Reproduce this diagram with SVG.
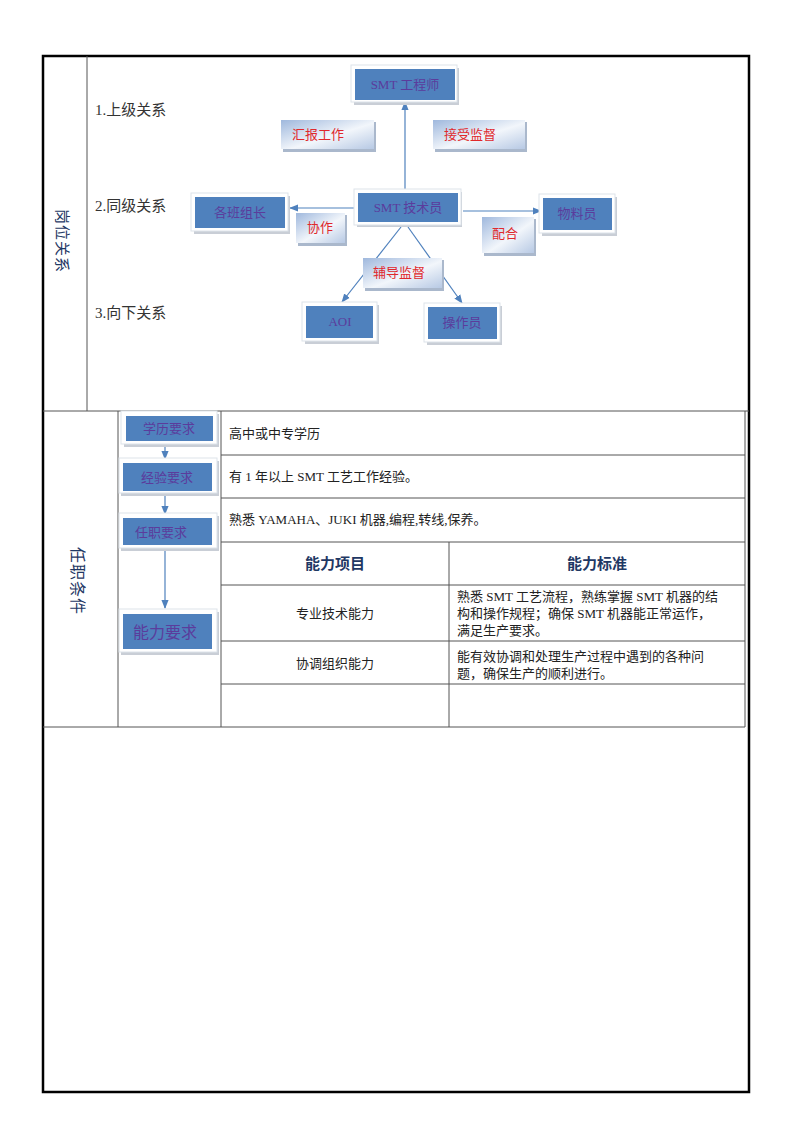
<svg xmlns="http://www.w3.org/2000/svg" width="800" height="1132" viewBox="0 0 800 1132">
<defs>
<linearGradient id="lab" x1="0" y1="0" x2="1" y2="1">
<stop offset="0" stop-color="#9fb8dd"/>
<stop offset="0.55" stop-color="#f2f6fb"/>
<stop offset="1" stop-color="#b7c9e4"/>
</linearGradient>
<marker id="ah" viewBox="0 0 10 10" refX="9" refY="5" markerWidth="9" markerHeight="9" markerUnits="userSpaceOnUse" orient="auto">
<path d="M0,1 L10,5 L0,9 z" fill="#4f81bd"/>
</marker>
<style>
.frame{fill:none;stroke:#000;stroke-width:2.5}
.ln{stroke:#555;stroke-width:1;fill:none}
.shadow{fill:#c9ced6}
.outer{fill:#fff;stroke:#dde3ea;stroke-width:1}
.blue{fill:#4f81bd}
.bt{font-family:"Liberation Serif","Noto Sans CJK SC",serif;font-size:13px;fill:#5b3c9c;text-anchor:middle}
.lb{fill:url(#lab)}
.lbs{fill:#aab8cc}
.lt{font-family:"Liberation Serif","Noto Sans CJK SC",serif;font-size:13px;fill:#e0282c}
.rel{font-family:"Liberation Serif","Noto Sans CJK SC",serif;font-size:15px;fill:#333}
.tt{font-family:"Liberation Serif","Noto Sans CJK SC",serif;font-size:13px;fill:#222}
.hd{font-family:"Noto Sans CJK SC",sans-serif;font-size:15px;font-weight:bold;fill:#1f3864;text-anchor:middle}
.vt{font-family:"Noto Sans CJK SC",sans-serif;font-size:15px;fill:#1f3864}
.con{stroke:#4f81bd;stroke-width:1.2;fill:none}
</style>
</defs>
<rect width="800" height="1132" fill="#fff"/>

<g id="table">
<rect class="frame" x="43" y="56" width="706" height="1036"/>
<line class="ln" x1="87" y1="56" x2="87" y2="411"/>
<line class="ln" x1="43" y1="411" x2="749" y2="411"/>
<line class="ln" x1="118" y1="411" x2="118" y2="727"/>
<line class="ln" x1="221" y1="411" x2="221" y2="727"/>
<line class="ln" x1="745" y1="411" x2="745" y2="727"/>
<line class="ln" x1="221" y1="455" x2="745" y2="455"/>
<line class="ln" x1="221" y1="498" x2="745" y2="498"/>
<line class="ln" x1="221" y1="542" x2="745" y2="542"/>
<line class="ln" x1="221" y1="585" x2="745" y2="585"/>
<line class="ln" x1="221" y1="641" x2="745" y2="641"/>
<line class="ln" x1="221" y1="684" x2="745" y2="684"/>
<line class="ln" x1="43" y1="727" x2="745" y2="727"/>
<line class="ln" x1="449" y1="542" x2="449" y2="727"/>
<text class="vt" transform="translate(57,209) rotate(90)" letter-spacing="1">岗位关系</text>
<text class="vt" transform="translate(72,547) rotate(90)" style="font-size:16px" letter-spacing="1">任职条件</text>
<text class="rel" x="95" y="115">1.上级关系</text>
<text class="rel" x="95" y="211">2.同级关系</text>
<text class="rel" x="95" y="318">3.向下关系</text>
<text class="tt" x="229" y="438">高中或中专学历</text>
<text class="tt" x="229" y="481">有 1 年以上 SMT 工艺工作经验。</text>
<text class="tt" x="229" y="524">熟悉 YAMAHA、JUKI 机器,编程,转线,保养。</text>
<text class="hd" x="335" y="569">能力项目</text>
<text class="hd" x="597" y="569">能力标准</text>
<text class="tt" x="335" y="618" text-anchor="middle">专业技术能力</text>
<text class="tt" x="335" y="668" text-anchor="middle">协调组织能力</text>
<text class="tt" x="457" y="601">熟悉 SMT 工艺流程，熟练掌握 SMT 机器的结</text>
<text class="tt" x="457" y="618">构和操作规程；确保 SMT 机器能正常运作，</text>
<text class="tt" x="457" y="635">满足生产要求。</text>
<text class="tt" x="457" y="661">能有效协调和处理生产过程中遇到的各种问</text>
<text class="tt" x="457" y="678">题，确保生产的顺利进行。</text>
</g>

<g id="connectors">
<line class="con" x1="405" y1="193" x2="405" y2="102" marker-end="url(#ah)"/>
<line class="con" x1="358" y1="208" x2="290" y2="208" marker-end="url(#ah)"/>
<line class="con" x1="463" y1="211" x2="541" y2="211" marker-end="url(#ah)"/>
<line class="con" x1="401" y1="227" x2="342" y2="302" marker-end="url(#ah)"/>
<line class="con" x1="408" y1="227" x2="462" y2="303" marker-end="url(#ah)"/>
<line class="con" x1="165" y1="443" x2="165" y2="459" marker-end="url(#ah)"/>
<line class="con" x1="165" y1="494" x2="165" y2="514" marker-end="url(#ah)"/>
<line class="con" x1="165" y1="549" x2="165" y2="608" marker-end="url(#ah)"/>
</g>

<g id="n-engineer">
<rect class="shadow" x="354" y="68" width="105" height="37"/>
<rect class="outer" x="351" y="65" width="106" height="37"/>
<rect class="blue" x="355" y="69" width="100" height="31"/>
<text class="bt" x="405" y="89">SMT 工程师</text>
</g>
<g id="n-report">
<rect class="lbs" x="283" y="122" width="93" height="30"/>
<rect class="lb" x="281" y="120" width="93" height="29"/>
<text class="lt" x="292" y="139">汇报工作</text>
</g>
<g id="n-supervise">
<rect class="lbs" x="435" y="122" width="92" height="30"/>
<rect class="lb" x="433" y="120" width="92" height="29"/>
<text class="lt" x="444" y="139">接受监督</text>
</g>
<g id="n-tech">
<rect class="shadow" x="357" y="192" width="105" height="35"/>
<rect class="outer" x="354" y="189" width="107" height="36"/>
<rect class="blue" x="358" y="193" width="100" height="29"/>
<text class="bt" x="408" y="212">SMT 技术员</text>
</g>
<g id="n-leaders">
<rect class="shadow" x="194" y="196" width="96" height="38"/>
<rect class="outer" x="191" y="193" width="97" height="38"/>
<rect class="blue" x="195" y="197" width="90" height="31"/>
<text class="bt" x="240" y="217">各班组长</text>
</g>
<g id="n-cooperate">
<rect class="lbs" x="298" y="215" width="49" height="31"/>
<rect class="lb" x="296" y="213" width="49" height="30"/>
<text class="lt" x="307" y="232">协作</text>
</g>
<g id="n-material">
<rect class="shadow" x="542" y="197" width="75" height="39"/>
<rect class="outer" x="539" y="194" width="76" height="39"/>
<rect class="blue" x="543" y="198" width="69" height="32"/>
<text class="bt" x="577" y="218">物料员</text>
</g>
<g id="n-coord">
<rect class="lbs" x="484" y="219" width="52" height="37"/>
<rect class="lb" x="482" y="217" width="52" height="36"/>
<text class="lt" x="492" y="238">配合</text>
</g>
<g id="n-guide">
<rect class="lbs" x="365" y="260" width="79" height="31"/>
<rect class="lb" x="363" y="258" width="79" height="30"/>
<text class="lt" x="373" y="277">辅导监督</text>
</g>
<g id="n-aoi">
<rect class="shadow" x="305" y="305" width="74" height="39"/>
<rect class="outer" x="302" y="302" width="75" height="39"/>
<rect class="blue" x="306" y="306" width="67" height="32"/>
<text class="bt" x="340" y="326">AOI</text>
</g>
<g id="n-operator">
<rect class="shadow" x="427" y="306" width="75" height="39"/>
<rect class="outer" x="424" y="303" width="76" height="39"/>
<rect class="blue" x="428" y="307" width="69" height="32"/>
<text class="bt" x="462" y="327">操作员</text>
</g>

<g id="n-edu">
<rect class="shadow" x="124" y="414" width="95" height="33"/>
<rect class="outer" x="121" y="411" width="96" height="33"/>
<rect class="blue" x="126" y="416" width="87" height="25"/>
<text class="bt" x="169" y="433">学历要求</text>
</g>
<g id="n-exp">
<rect class="shadow" x="121" y="461" width="98" height="35"/>
<rect class="outer" x="119" y="458" width="98" height="35"/>
<rect class="blue" x="123" y="463" width="89" height="28"/>
<text class="bt" x="167" y="482">经验要求</text>
</g>
<g id="n-job">
<rect class="shadow" x="121" y="516" width="98" height="35"/>
<rect class="outer" x="119" y="513" width="98" height="35"/>
<rect class="blue" x="123" y="518" width="89" height="27"/>
<text class="bt" x="161" y="537">任职要求</text>
</g>
<g id="n-ability">
<rect class="shadow" x="121" y="612" width="98" height="43"/>
<rect class="outer" x="119" y="609" width="98" height="43"/>
<rect class="blue" x="123" y="614" width="89" height="35"/>
<text class="bt" x="165" y="638" style="font-size:16px">能力要求</text>
</g>
</svg>
